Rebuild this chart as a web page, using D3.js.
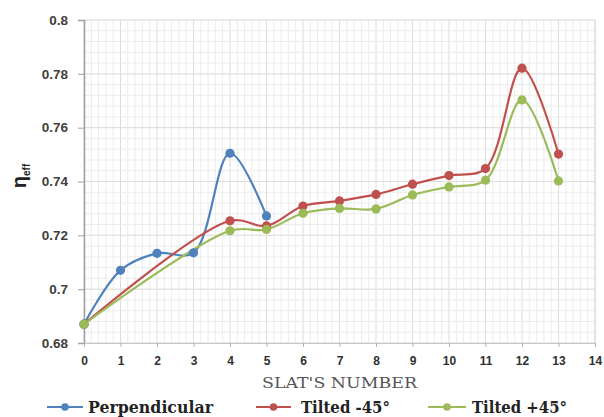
<!DOCTYPE html>
<html><head><meta charset="utf-8">
<script src="https://cdn.jsdelivr.net/npm/d3@7"></script>
<style>body{margin:0;background:#fff;}svg{display:block;}</style>
</head><body>
<script>
const xTicks = [0,1,2,3,4,5,6,7,8,9,10,11,12,13,14];
const yTicks = [0.68,0.70,0.72,0.74,0.76,0.78,0.80];
const perpX = [0,1,2,3,4,5];
const perpY = [0.687,0.707,0.7133,0.7135,0.7505,0.7272];
const negX = [0,4,5,6,7,8,9,10,11,12,13];
const negY = [0.687,0.7254,0.7235,0.7309,0.7328,0.7352,0.7390,0.7422,0.7448,0.7821,0.7502];
const posX = [0,4,5,6,7,8,9,10,11,12,13];
const posY = [0.687,0.7217,0.7222,0.7282,0.7300,0.7298,0.7350,0.7380,0.7405,0.7703,0.7402];
const seriesNames = ["Perpendicular","Tilted -45°","Tilted +45°"];
const colors = ["#4f81bd","#c0504d","#9bbb59"];

const SERIF = "'DejaVu Serif', 'Liberation Serif', serif";
const SANS = "'Liberation Sans', 'DejaVu Sans', sans-serif";

const W=604,H=417;
const svg=d3.select("body").append("svg").attr("width",W).attr("height",H);
const x=d3.scaleLinear().domain([0,14]).range([84,595]);
const y=d3.scaleLinear().domain([0.68,0.80]).range([343,20]);

const g=svg.append("g");
g.selectAll(".vx").data(d3.range(0,14.0001,0.2)).join("line")
 .attr("x1",d=>x(d)).attr("x2",d=>x(d)).attr("y1",y(0.8)).attr("y2",y(0.68))
 .attr("stroke",d=>Math.abs(d-Math.round(d))<1e-6?"#dcdcdc":"#ececec").attr("stroke-width",1);
g.selectAll(".hy").data(d3.range(0.68,0.80001,0.004)).join("line")
 .attr("y1",d=>y(d)).attr("y2",d=>y(d)).attr("x1",x(0)).attr("x2",x(14))
 .attr("stroke","#ececec").attr("stroke-width",1);
g.selectAll(".hmy").data(yTicks).join("line")
 .attr("y1",d=>y(d)).attr("y2",d=>y(d)).attr("x1",x(0)).attr("x2",x(14))
 .attr("stroke","#dedede").attr("stroke-width",1);

const yAxis=d3.axisLeft(y).tickValues(yTicks).tickSize(6).tickPadding(10)
 .tickFormat(d=>String(+d.toFixed(2)));
const ya=svg.append("g").attr("transform",`translate(${x(0)},0)`).call(yAxis);
ya.attr("font-family",SANS);
ya.select(".domain").attr("stroke","#a0a0a0").attr("stroke-width",1.5);
ya.selectAll(".tick line").attr("stroke","#a0a0a0");
ya.selectAll("text").attr("font-weight","bold").attr("font-size",13.5).attr("fill","#404040");

const xAxis=d3.axisBottom(x).tickValues(xTicks).tickSize(4).tickPadding(9).tickFormat(d3.format("d"));
const xa=svg.append("g").attr("transform",`translate(0,${y(0.68)})`).call(xAxis);
xa.attr("font-family",SANS);
xa.select(".domain").attr("stroke","#c8c8c8");
xa.selectAll(".tick line").attr("stroke","#b0b0b0");
xa.selectAll("text").attr("font-weight","bold").attr("font-size",12).attr("fill","#303030");

svg.append("line").attr("x1",x(14)).attr("x2",x(14)).attr("y1",y(0.8)).attr("y2",y(0.68)).attr("stroke","#d8d8d8");

svg.append("text").attr("font-family",SERIF).attr("x",262).attr("y",388)
 .attr("font-size",14.5).attr("textLength",155).attr("lengthAdjust","spacingAndGlyphs")
 .attr("fill","#555").text("SLAT'S NUMBER");
const yl=svg.append("text").attr("font-family",SANS).attr("transform","translate(26,176) rotate(-90)").attr("text-anchor","middle")
 .attr("font-weight","bold").attr("fill","#222");
yl.append("tspan").attr("font-size",20).text("η");
yl.append("tspan").attr("font-size",10).attr("dy",4).text("eff");

const series=[
 {xs:perpX,ys:perpY,c:colors[0]},
 {xs:negX,ys:negY,c:colors[1]},
 {xs:posX,ys:posY,c:colors[2]}];
const line=d3.line().x(d=>x(d[0])).y(d=>y(d[1])).curve(d3.curveCatmullRom.alpha(0.5));
series.forEach(s=>{
 const pts=s.xs.map((v,k)=>[v,s.ys[k]]);
 svg.append("path").datum(pts).attr("d",line).attr("fill","none")
  .attr("stroke",s.c).attr("stroke-width",2.2);
});
series.forEach(s=>{
 const pts=s.xs.map((v,k)=>[v,s.ys[k]]);
 svg.append("g").selectAll("circle").data(pts).join("circle")
  .attr("cx",d=>x(d[0])).attr("cy",d=>y(d[1])).attr("r",4.6).attr("fill",s.c);
});

const leg=[{x1:47,x2:83,tx:88,tw:125},{x1:256,x2:291,tx:301,tw:89},{x1:428,x2:466,tx:472,tw:95}];
leg.forEach((l,i)=>{
 const gy=407;
 svg.append("line").attr("x1",l.x1).attr("x2",l.x2).attr("y1",gy).attr("y2",gy).attr("stroke",colors[i]).attr("stroke-width",2);
 svg.append("circle").attr("cx",(l.x1+l.x2)/2).attr("cy",gy).attr("r",3.8).attr("fill",colors[i]);
 svg.append("text").attr("font-family",SERIF).attr("x",l.tx).attr("y",gy+6)
  .attr("font-weight","bold").attr("font-size",17)
  .attr("textLength",l.tw).attr("lengthAdjust","spacingAndGlyphs")
  .attr("fill","#222").text(seriesNames[i]);
});
</script>
</body></html>
